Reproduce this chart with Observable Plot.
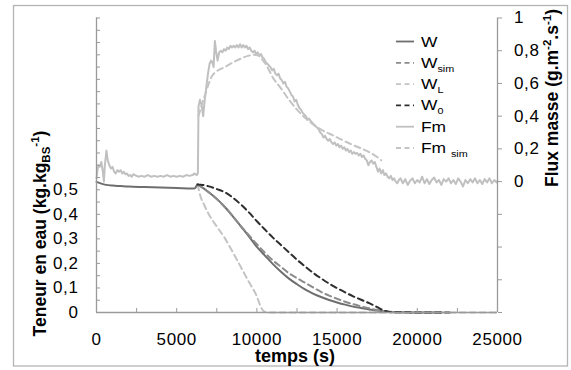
<!DOCTYPE html>
<html>
<head>
<meta charset="utf-8">
<script src="https://cdn.jsdelivr.net/npm/d3@7"></script>
<script src="https://cdn.jsdelivr.net/npm/@observablehq/plot@0.6"></script>
<style>
  body { margin: 0; background: #fff; }
  #chart { position: relative; width: 571px; height: 370px; }
  #chart svg [aria-label$="tick label"] text { letter-spacing: 0.6px; }
</style>
</head>
<body>
<div id="chart"></div>
<script>
// ---------- data ----------
// W (measured moisture content, kg/kg db)
const wT = [0, 300, 600, 1000, 1500, 2000, 3000, 4000, 5000, 6000, 6150, 6300, 6450, 7000, 7500, 8000, 8500, 9000, 9500, 10000, 10500, 11000, 11500, 12000, 12500, 13000, 13500, 14000, 14500, 15000, 15500, 16000, 16500, 17000, 17500, 18000, 18500, 19000, 20000, 21500];
const wV = [0.532, 0.525, 0.52, 0.517, 0.515, 0.513, 0.511, 0.509, 0.507, 0.505, 0.507, 0.522, 0.516, 0.49, 0.463, 0.43, 0.392, 0.351, 0.31, 0.267, 0.232, 0.197, 0.166, 0.138, 0.115, 0.094, 0.077, 0.063, 0.051, 0.041, 0.032, 0.024, 0.018, 0.012, 0.008, 0.004, 0.002, 0.001, 0, 0];
// W_sim
const wsT = [6300, 7000, 8000, 9000, 9500, 10000, 10500, 11000, 11500, 12000, 12500, 13000, 13500, 14000, 14500, 15000, 15500, 16000, 16500, 17000, 17500, 18000, 18500, 19000];
const wsV = [0.522, 0.49, 0.43, 0.352, 0.315, 0.278, 0.243, 0.212, 0.186, 0.16, 0.14, 0.121, 0.102, 0.084, 0.069, 0.056, 0.044, 0.034, 0.025, 0.017, 0.01, 0.005, 0.002, 0];
// W_L
const wlT = [6300, 6500, 6700, 7000, 7500, 8000, 8500, 9000, 9500, 10000, 10250, 10450, 10700, 25000];
const wlV = [0.522, 0.47, 0.44, 0.40, 0.35, 0.303, 0.245, 0.185, 0.125, 0.065, 0.022, 0.004, 0, 0];
// W_0
const w0T = [6300, 6500, 7000, 7500, 8000, 8500, 9000, 9500, 10000, 10500, 11000, 11500, 12000, 12500, 13000, 13500, 14000, 14500, 15000, 15500, 16000, 16500, 17000, 17500, 18000, 18500, 22000];
const w0V = [0.522, 0.521, 0.514, 0.503, 0.49, 0.468, 0.44, 0.408, 0.372, 0.338, 0.305, 0.275, 0.245, 0.215, 0.188, 0.162, 0.139, 0.118, 0.099, 0.082, 0.066, 0.052, 0.038, 0.022, 0.006, 0.001, 0];
// Fm sim (g.m-2.s-1)
const fsT = [6350, 6600, 6800, 7000, 7200, 7500, 8000, 8500, 9000, 9500, 9800, 10100, 10300, 10600, 11000, 11500, 12000, 12500, 13000, 13500, 14000, 14500, 15000, 15500, 16000, 16500, 17000, 17500, 17750];
const fsV = [0.40, 0.48, 0.54, 0.60, 0.645, 0.675, 0.70, 0.728, 0.752, 0.77, 0.775, 0.77, 0.75, 0.71, 0.635, 0.57, 0.50, 0.44, 0.39, 0.35, 0.318, 0.294, 0.27, 0.246, 0.223, 0.203, 0.18, 0.15, 0.13];
// Fm measured (g.m-2.s-1), [time, value]
const fmPairs = [
  [0,0.02],[100,0.10],[200,0.09],[300,0.12],[400,0.06],[460,0.00],[520,0.10],[620,0.19],[700,0.13],[800,0.10],
  [900,0.08],[1000,0.09],[1100,0.06],[1200,0.05],[1300,0.07],[1400,0.06],[1500,0.07],[1600,0.05],[1700,0.06],[1800,0.045],
  [1900,0.05],[2000,0.035],[2100,0.04],[2200,0.03],[2300,0.045],[2400,0.04],[2600,0.03],[2800,0.035],[3000,0.03],[3200,0.04],
  [3400,0.03],[3600,0.035],[3800,0.03],[4000,0.035],[4200,0.03],[4400,0.04],[4600,0.03],[4800,0.035],[5000,0.03],[5200,0.035],
  [5400,0.03],[5600,0.04],[5800,0.035],[6000,0.04],[6100,0.05],[6250,0.04],[6320,0.05],[6360,0.46],[6450,0.50],[6550,0.47],
  [6650,0.40],[6750,0.50],[6850,0.58],[6950,0.66],[7050,0.72],[7150,0.74],[7250,0.72],[7300,0.70],[7380,0.86],[7450,0.80],
  [7550,0.74],[7650,0.79],[7750,0.80],[7850,0.79],[7950,0.81],[8050,0.80],[8150,0.82],[8250,0.81],[8350,0.83],[8450,0.82],
  [8550,0.83],[8650,0.82],[8750,0.835],[8850,0.82],[8950,0.84],[9050,0.82],[9150,0.835],[9250,0.82],[9350,0.83],[9450,0.81],
  [9550,0.82],[9650,0.80],[9750,0.79],[9850,0.80],[9950,0.78],[10050,0.79],[10150,0.77],[10250,0.78],[10350,0.76],[10450,0.75],
  [10550,0.73],[10650,0.72],[10750,0.71],[10850,0.70],[10950,0.68],[11050,0.69],[11150,0.66],[11250,0.65],[11350,0.66],[11450,0.63],
  [11550,0.62],[11650,0.60],[11750,0.61],[11850,0.58],[11950,0.57],[12050,0.55],[12150,0.53],[12250,0.52],[12350,0.49],[12450,0.50],
  [12550,0.47],[12650,0.45],[12750,0.44],[12850,0.42],[12950,0.41],[13050,0.40],[13150,0.38],[13250,0.385],[13350,0.37],[13450,0.36],
  [13550,0.35],[13650,0.34],[13750,0.33],[13850,0.32],[13950,0.30],[14050,0.29],[14150,0.27],[14250,0.28],[14350,0.26],[14450,0.25],
  [14550,0.26],[14650,0.24],[14750,0.23],[14850,0.24],[14950,0.22],[15050,0.23],[15150,0.21],[15250,0.22],[15350,0.20],[15450,0.21],
  [15550,0.19],[15650,0.20],[15750,0.18],[15850,0.19],[15950,0.17],[16050,0.18],[16150,0.17],[16250,0.175],[16350,0.16],[16450,0.17],
  [16550,0.15],[16650,0.16],[16750,0.14],[16850,0.13],[16950,0.10],[17050,0.12],[17150,0.13],[17250,0.11],[17350,0.12],[17450,0.09],
  [17550,0.06],[17650,0.08],[17750,0.05],[17850,0.07],[17950,0.04],[18050,0.05],[18150,0.03],[18250,0.02],[18350,0.035],[18450,0.01],
  [18550,0.02],[18650,0.00],[18750,-0.01],[18850,0.01],[18950,0.02],[19100,-0.01],[19250,0.015],[19400,-0.02],[19550,0.005],[19700,0.02],
  [19850,-0.01],[20000,0.01],[20150,-0.005],[20300,0.03],[20450,-0.01],[20600,0.015],[20750,-0.015],[20900,0.01],[21050,0.025],[21200,-0.005],
  [21350,0.01],[21500,-0.02],[21650,0.015],[21800,0.0],[21950,0.02],[22100,-0.01],[22250,0.01],[22400,-0.015],[22550,0.02],[22700,0.0],
  [22850,-0.03],[23000,0.01],[23150,-0.01],[23300,0.015],[23450,-0.005],[23600,0.02],[23750,-0.01],[23900,0.01],[24050,-0.015],[24200,0.015],
  [24350,-0.005],[24500,0.02],[24650,-0.01],[24800,0.01],[24950,-0.005],[25000,0.005]
];

// axis ticks
const xMinorTicks = [0, 2500, 5000, 7500, 10000, 12500, 15000, 17500, 20000, 22500, 25000];
const xLabelTicks = [0, 5000, 10000, 15000, 20000, 25000];
const yLeftMinor = [0,0.05,0.1,0.15,0.2,0.25,0.3,0.35,0.4,0.45,0.5,0.55,0.6,0.65,0.7,0.75,0.8,0.85,0.9,0.95,1,1.05,1.1,1.15,1.2];
const yLeftLabels = [0, 0.1, 0.2, 0.3, 0.4, 0.5];
const yRightMinor = [-0.8, -0.6, -0.4, -0.2, 0, 0.2, 0.4, 0.6, 0.8, 1];
const yRightLabels = [0, 0.2, 0.4, 0.6, 0.8, 1];

// ---------- helpers ----------
const zip = (T, V) => T.map((t, i) => ({t, v: V[i]}));
const W = zip(wT, wV), Ws = zip(wsT, wsV), Wl = zip(wlT, wlV), W0 = zip(w0T, w0V);
const Fs = zip(fsT, fsV);
const Fm = fmPairs.map(([t, v]) => ({t, v}));
// right axis (-0.8..1) shares the frame with left axis (0..1.2)
const toLeft = f => (f + 0.8) * 1.2 / 1.8;
const fromLeft = y => y * 1.8 / 1.2 - 0.8;
const fr = v => String(Math.round(v * 10) / 10).replace(".", ",");

const axisColor = "#9a9a9a";
const cW = "#6e6e6e", cWs = "#8c8c8c", cWl = "#c4c4c4", cW0 = "#2e2e2e", cFm = "#c0c0c0", cFs = "#c4c4c4";
const dash = "6,4";

const plot = Plot.plot({
  width: 571, height: 370,
  marginLeft: 96, marginRight: 74, marginTop: 17.5, marginBottom: 58,
  x: {domain: [0, 25000]},
  y: {domain: [0, 1.2]},
  style: {fontFamily: "Arial, 'Liberation Sans', sans-serif", fontSize: "17px", color: "#000", background: "#fff", overflow: "visible"},
  marks: [
    // Fm group (right axis)
    Plot.line(Fm, {x: "t", y: d => toLeft(d.v), stroke: cFm, strokeWidth: 2}),
    Plot.line(Fs, {x: "t", y: d => toLeft(d.v), stroke: cFs, strokeWidth: 2, strokeDasharray: dash, curve: "monotone-x"}),
    // W group (left axis)
    Plot.line(Wl, {x: "t", y: "v", stroke: cWl, strokeWidth: 2, strokeDasharray: dash, curve: "monotone-x"}),
    Plot.line(W, {x: "t", y: "v", stroke: cW, strokeWidth: 2, curve: "monotone-x"}),
    Plot.line(Ws, {x: "t", y: "v", stroke: cWs, strokeWidth: 2, strokeDasharray: dash, curve: "monotone-x"}),
    Plot.line(W0, {x: "t", y: "v", stroke: cW0, strokeWidth: 2, strokeDasharray: dash, curve: "monotone-x"}),
    // axis lines
    Plot.ruleX([0, 25000], {stroke: axisColor, strokeWidth: 1.3}),
    Plot.ruleY([0], {stroke: axisColor, strokeWidth: 1.3}),
    // left axis: inward minor ticks + labels
    Plot.axisY(yLeftMinor, {anchor: "left", tickSize: 4, dx: 4, stroke: axisColor, tickFormat: () => "", label: null}),
    Plot.axisY(yLeftLabels, {anchor: "left", tickSize: 0, tickPadding: 18, tickFormat: fr, label: null, fill: "#000"}),
    // bottom axis
    Plot.axisX(xMinorTicks, {anchor: "bottom", tickSize: 4, dy: -4, stroke: axisColor, tickFormat: () => "", label: null}),
    Plot.axisX(xLabelTicks, {anchor: "bottom", tickSize: 0, tickPadding: 20, tickFormat: d => String(d), label: null, fill: "#000"}),
    // right axis
    Plot.axisY(yRightMinor.map(toLeft), {anchor: "right", tickSize: 4, stroke: axisColor, tickFormat: () => "", label: null}),
    Plot.axisY(yRightLabels.map(toLeft), {anchor: "right", tickSize: 0, tickPadding: 16.5, tickFormat: d => fr(fromLeft(d)), label: null, fill: "#000"})
  ]
});

document.getElementById("chart").append(plot);

// ---------- decorations: border, axis titles, legend ----------
const svg = d3.select(plot);
svg.append("rect").attr("x", 13.5).attr("y", 5.5).attr("width", 554).attr("height", 360.5)
  .attr("fill", "none").attr("stroke", "#b4b4b4").attr("stroke-width", 1.3);

const font = "Arial, 'Liberation Sans', sans-serif";
// x title
svg.append("text").attr("x", 295).attr("y", 361.5).attr("text-anchor", "middle")
  .attr("font-family", font).attr("font-weight", "bold").attr("font-size", 18).text("temps (s)");

// left title
{
  const t = svg.append("text").attr("transform", "translate(46,233.5) rotate(-90)")
    .attr("text-anchor", "middle").attr("font-family", font).attr("font-weight", "bold").attr("font-size", 17.5);
  t.append("tspan").text("Teneur en eau (kg.kg");
  t.append("tspan").attr("font-size", 11.5).attr("dy", 4).text("BS");
  t.append("tspan").attr("font-size", 11.5).attr("dy", -11).text("-1");
  t.append("tspan").attr("dy", 7).text(")");
}
// right title
{
  const t = svg.append("text").attr("transform", "translate(558,98) rotate(-90)")
    .attr("text-anchor", "middle").attr("font-family", font).attr("font-weight", "bold").attr("font-size", 17.5);
  t.append("tspan").text("Flux masse (g.m");
  t.append("tspan").attr("font-size", 11.5).attr("dy", -7).text("-2");
  t.append("tspan").attr("dy", 7).text(".s");
  t.append("tspan").attr("font-size", 11.5).attr("dy", -7).text("-1");
  t.append("tspan").attr("dy", 7).text(")");
}

// legend
const legendItems = [
  {main: "W", sub: "", color: cW, dashed: false},
  {main: "W", sub: "sim", color: cWs, dashed: true},
  {main: "W", sub: "L", color: cWl, dashed: true},
  {main: "W", sub: "0", color: cW0, dashed: true},
  {main: "Fm", sub: "", color: cFm, dashed: false},
  {main: "Fm ", sub: "sim", color: cFs, dashed: true}
];
const lg = svg.append("g");
legendItems.forEach((it, i) => {
  const y = 41.5 + i * 21.3;
  lg.append("line").attr("x1", 396).attr("x2", 414).attr("y1", y).attr("y2", y)
    .attr("stroke", it.color).attr("stroke-width", 1.8)
    .attr("stroke-dasharray", it.dashed ? "5,3.5" : null);
  const t = lg.append("text").attr("transform", `translate(421,${y + 5}) scale(1.2,1)`)
    .attr("text-anchor", "start")
    .attr("font-family", font).attr("font-size", 14.5).attr("fill", "#000");
  t.append("tspan").text(it.main);
  if (it.sub) t.append("tspan").attr("font-size", 9).attr("dy", 4).text(it.sub);
});
</script>
</body>
</html>
